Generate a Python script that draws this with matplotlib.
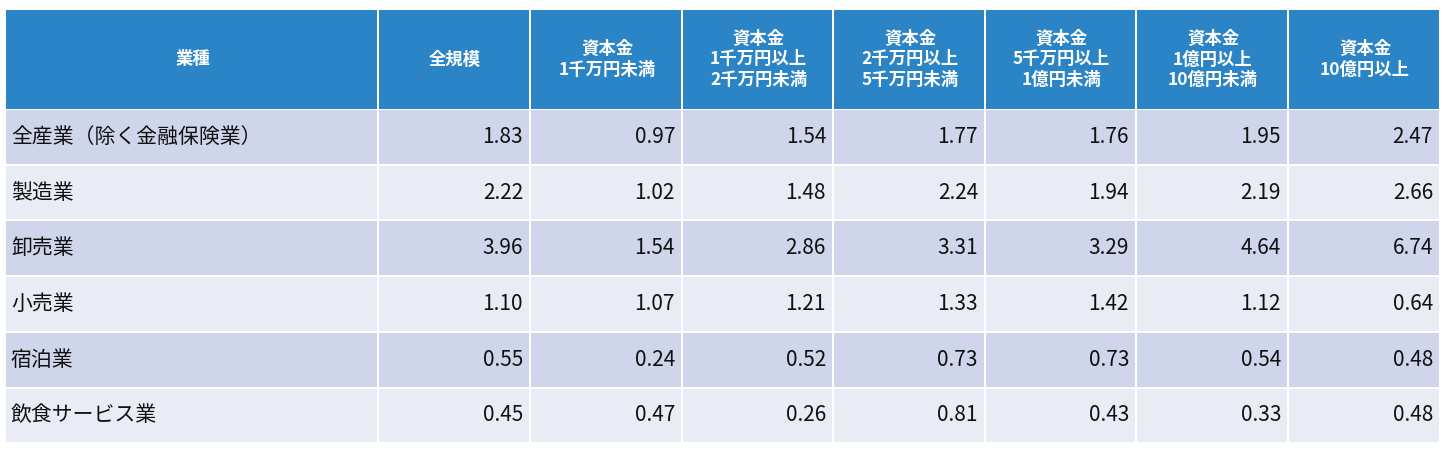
import matplotlib
matplotlib.use("Agg")
import matplotlib.pyplot as plt
from matplotlib.patches import Rectangle

plt.rcParams['font.family'] = ['Noto Sans CJK JP', 'DejaVu Sans']

headers = ["業種", "全規模", "資本金\n1千万円未満", "資本金\n1千万円以上\n2千万円未満",
           "資本金\n2千万円以上\n5千万円未満", "資本金\n5千万円以上\n1億円未満",
           "資本金\n1億円以上\n10億円未満", "資本金\n10億円以上"]
industries = ["全産業（除く金融保険業）", "製造業", "卸売業", "小売業", "宿泊業", "飲食サービス業"]
values = [
    [1.83, 0.97, 1.54, 1.77, 1.76, 1.95, 2.47],
    [2.22, 1.02, 1.48, 2.24, 1.94, 2.19, 2.66],
    [3.96, 1.54, 2.86, 3.31, 3.29, 4.64, 6.74],
    [1.10, 1.07, 1.21, 1.33, 1.42, 1.12, 0.64],
    [0.55, 0.24, 0.52, 0.73, 0.73, 0.54, 0.48],
    [0.45, 0.47, 0.26, 0.81, 0.43, 0.33, 0.48],
]

W, H = 1448, 451
fig = plt.figure(figsize=(W/100, H/100), dpi=100)
ax = fig.add_axes([0, 0, 1, 1])
ax.set_xlim(0, W); ax.set_ylim(H, 0); ax.axis('off')

xs = [6, 379, 531, 683, 834, 986, 1137, 1289, 1441]
header_top, header_bot = 10, 109
row_h = 55.7
gap = 2
hdr_col = '#2A84C6'
row_cols = ['#CFD5EA', '#E9EBF5']

for j, h in enumerate(headers):
    x0, x1 = xs[j], xs[j+1]
    ax.add_patch(Rectangle((x0, header_top), x1-x0-gap, header_bot-header_top, color=hdr_col, lw=0))
    ax.text((x0+x1)/2, (header_top+header_bot)/2, h, color='white', fontsize=12.5,
            fontweight='bold', ha='center', va='center', linespacing=1.15)

for i, name in enumerate(industries):
    y0 = header_bot + 1 + i*row_h
    for j in range(len(headers)):
        x0, x1 = xs[j], xs[j+1]
        ax.add_patch(Rectangle((x0, y0), x1-x0-gap, row_h-gap, color=row_cols[i % 2], lw=0))
    yc = y0 + (row_h-gap)/2
    ax.text(xs[0]+5, yc, name, fontsize=15, ha='left', va='center', color='#111111')
    for j, v in enumerate(values[i]):
        ax.text(xs[j+2]-gap-6, yc, f"{v:.2f}", fontsize=15, ha='right', va='center', color='#111111')

fig.savefig("out.png", dpi=100, facecolor='white')
